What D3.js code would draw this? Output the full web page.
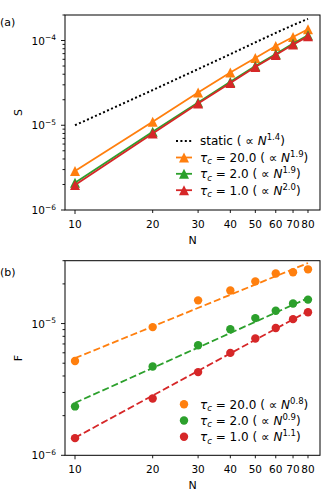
<!DOCTYPE html>
<html>
<head>
<meta charset="utf-8">
<script src="https://cdn.jsdelivr.net/npm/d3@7"></script>
<style>
  body { margin: 0; background: #fff; }
  svg { display: block; font-family: 'DejaVu Sans', sans-serif; }
</style>
</head>
<body>
<svg id="chart" width="336" height="503"></svg>
<script>
// ----
// data
// ----

var sizes = [10, 20, 30, 40, 50, 60, 70, 80];
var xTickValues = [10, 20, 30, 40, 50, 60, 70, 80];

// panel (a): S against N
var sStatic = [1.0e-5, 2.6e-5, 4.6e-5, 6.9e-5, 9.5e-5, 1.23e-4, 1.52e-4, 1.8e-4];
var sTau20 = [2.88e-6, 1.10e-5, 2.43e-5, 4.19e-5, 6.22e-5, 8.61e-5, 1.10e-4, 1.36e-4];
var sTau2 = [2.1e-6, 8.4e-6, 1.85e-5, 3.25e-5, 5.0e-5, 6.95e-5, 9.2e-5, 1.15e-4];
var sTau1 = [1.97e-6, 8.0e-6, 1.81e-5, 3.16e-5, 4.87e-5, 6.75e-5, 8.95e-5, 1.12e-4];

// panel (b): F against N
var fTau20 = [5.2e-6, 9.4e-6, 1.50e-5, 1.78e-5, 2.09e-5, 2.40e-5, 2.45e-5, 2.58e-5];
var fTau2 = [2.35e-6, 4.72e-6, 6.85e-6, 9.05e-6, 1.10e-5, 1.25e-5, 1.42e-5, 1.52e-5];
var fTau1 = [1.35e-6, 2.70e-6, 4.28e-6, 5.99e-6, 7.7e-6, 9.26e-6, 1.08e-5, 1.22e-5];

// fitted power laws, values at the two ends N = 10 and N = 80
var fitEnds = [10, 80];
var fitTau20 = [5.46e-6, 2.88e-5];
var fitTau2 = [2.5e-6, 1.56e-5];
var fitTau1 = [1.36e-6, 1.24e-5];

// legend text pieces
var tauLabels = ['20.0', '2.0', '1.0'];
var sExponents = ['1.9', '1.9', '2.0'];
var fExponents = ['0.8', '0.9', '1.1'];
var staticExponent = '1.4';

var colors = ['#ff7f0e', '#2ca02c', '#d62728'];

// ------
// layout
// ------

var svg = d3.select('#chart');
var left = 65, right = 320;

var x = d3.scaleLog().domain([9.145, 89.05]).range([left, right]);

var panelA = { top: 15, bottom: 210, yDomain: [1e-6, 2e-4], label: 'S', tag: '(a)', tagY: 26 };
var panelB = { top: 260.7, bottom: 455.3, yDomain: [1e-6, 3e-5], label: 'F', tag: '(b)', tagY: 276 };

// adds a "10^e" label made of two tspans
var powerLabel = function (text, exp, sup) {
  text.append('tspan').text('10');
  text.append('tspan').attr('dy', -4.5).attr('font-size', sup).text('\u2212' + exp);
};

// axes, ticks and frame of one panel
var drawPanel = function (p) {
  var y = d3.scaleLog().domain(p.yDomain).range([p.bottom, p.top]);
  var g = svg.append('g').attr('class', 'panel');

  // x ticks
  var xt = g.append('g').attr('class', 'x-ticks');
  xt.selectAll('line').data(xTickValues).enter().append('line')
    .attr('x1', function (d) { return x(d); })
    .attr('x2', function (d) { return x(d); })
    .attr('y1', p.bottom)
    .attr('y2', function (d) { return p.bottom + (d === 10 ? 4 : 3); })
    .attr('stroke', '#000').attr('stroke-width', 0.9);
  xt.selectAll('text').data(xTickValues).enter().append('text')
    .attr('x', function (d) { return x(d); })
    .attr('y', p.bottom + 18)
    .attr('text-anchor', 'middle')
    .attr('font-size', 10.5)
    .text(d3.format('d'));

  // y ticks: decades with labels, the rest short
  var yt = g.append('g').attr('class', 'y-ticks');
  var lo = Math.round(Math.log10(p.yDomain[0])), hi = Math.ceil(Math.log10(p.yDomain[1]));
  var all = [];
  for (var e = lo; e < hi; e++) {
    for (var m = 1; m < 10; m++) {
      var v = m * Math.pow(10, e);
      if (v >= p.yDomain[0] * 0.999 && v <= p.yDomain[1] * 1.001) all.push({ v: v, major: m === 1, e: e });
    }
  }
  yt.selectAll('line').data(all).enter().append('line')
    .attr('x1', left)
    .attr('x2', function (d) { return left - (d.major ? 4 : 2.5); })
    .attr('y1', function (d) { return y(d.v); })
    .attr('y2', function (d) { return y(d.v); })
    .attr('stroke', '#000').attr('stroke-width', 0.9);
  yt.selectAll('text').data(all.filter(function (d) { return d.major; })).enter().append('text')
    .attr('x', 56)
    .attr('y', function (d) { return y(d.v) + 4; })
    .attr('text-anchor', 'end')
    .attr('font-size', 10.5)
    .each(function (d) { powerLabel(d3.select(this), -d.e, 7.5); });

  // frame
  g.append('rect')
    .attr('x', left).attr('y', p.top)
    .attr('width', right - left).attr('height', p.bottom - p.top)
    .attr('fill', 'none').attr('stroke', '#000').attr('stroke-width', 1);

  // axis labels
  g.append('text')
    .attr('x', (left + right) / 2).attr('y', p.bottom + 34)
    .attr('text-anchor', 'middle').attr('font-size', 11)
    .text('N');
  g.append('text')
    .attr('transform', 'translate(22,' + ((p.top + p.bottom) / 2) + ') rotate(-90)')
    .attr('text-anchor', 'middle').attr('font-size', 11)
    .text(p.label);
  g.append('text')
    .attr('x', 0).attr('y', p.tagY)
    .attr('font-size', 11)
    .text(p.tag);

  return y;
};

// triangle marker path centred on 0,0
var triangle = function (s) {
  return 'M0,' + (-s) + 'L' + (-s) + ',' + s + 'L' + s + ',' + s + 'Z';
};

// legend label "tau_c = v ( prop N^k )"
var tauText = function (text, tau, exp) {
  text.append('tspan').attr('font-style', 'italic').text('\u03c4');
  text.append('tspan').attr('font-style', 'italic').attr('font-size', 8.5).attr('dy', 2.5).text('c');
  text.append('tspan').attr('dy', -2.5).text(' = ' + tau + ' ( \u221d ');
  text.append('tspan').attr('font-style', 'italic').text('N');
  text.append('tspan').attr('font-size', 8.5).attr('dy', -5).text(exp);
  text.append('tspan').attr('dy', 5).text(')');
};

// ---------
// panel (a)
// ---------

var yA = drawPanel(panelA);
var lineA = d3.line()
  .x(function (d) { return x(d[0]); })
  .y(function (d) { return yA(d[1]); });

svg.append('path')
  .attr('d', lineA(d3.zip(sizes, sStatic)))
  .attr('fill', 'none').attr('stroke', '#000')
  .attr('stroke-width', 2).attr('stroke-dasharray', '2,2.4');

[sTau20, sTau2, sTau1].forEach(function (series, i) {
  var pts = d3.zip(sizes, series);
  svg.append('path')
    .attr('d', lineA(pts))
    .attr('fill', 'none').attr('stroke', colors[i]).attr('stroke-width', 1.8);
  svg.append('g').selectAll('path').data(pts).enter().append('path')
    .attr('d', triangle(5))
    .attr('transform', function (d) { return 'translate(' + x(d[0]) + ',' + yA(d[1]) + ')'; })
    .attr('fill', colors[i]);
});

// legend (a)
var legA = svg.append('g').attr('class', 'legend').attr('font-size', 12);
var rowA = [141, 157.5, 173.8, 190.2];
legA.append('line')
  .attr('x1', 176).attr('x2', 192).attr('y1', rowA[0]).attr('y2', rowA[0])
  .attr('stroke', '#000').attr('stroke-width', 2).attr('stroke-dasharray', '2,2.4');
var tStatic = legA.append('text').attr('x', 200).attr('y', rowA[0] + 4.3);
tStatic.append('tspan').text('static ( \u221d ');
tStatic.append('tspan').attr('font-style', 'italic').text('N');
tStatic.append('tspan').attr('font-size', 8.5).attr('dy', -5).text(staticExponent);
tStatic.append('tspan').attr('dy', 5).text(')');
tauLabels.forEach(function (tau, i) {
  var yy = rowA[i + 1];
  legA.append('line')
    .attr('x1', 176).attr('x2', 192).attr('y1', yy).attr('y2', yy)
    .attr('stroke', colors[i]).attr('stroke-width', 1.8);
  legA.append('path').attr('d', triangle(5))
    .attr('transform', 'translate(184,' + yy + ')').attr('fill', colors[i]);
  tauText(legA.append('text').attr('x', 200).attr('y', yy + 4.3), tau, sExponents[i]);
});

// ---------
// panel (b)
// ---------

var yB = drawPanel(panelB);
var lineB = d3.line()
  .x(function (d) { return x(d[0]); })
  .y(function (d) { return yB(d[1]); });

[[fTau20, fitTau20], [fTau2, fitTau2], [fTau1, fitTau1]].forEach(function (pair, i) {
  svg.append('g').selectAll('circle').data(d3.zip(sizes, pair[0])).enter().append('circle')
    .attr('cx', function (d) { return x(d[0]); })
    .attr('cy', function (d) { return yB(d[1]); })
    .attr('r', 4.2)
    .attr('fill', colors[i]);
  svg.append('path')
    .attr('d', lineB(d3.zip(fitEnds, pair[1])))
    .attr('fill', 'none').attr('stroke', colors[i])
    .attr('stroke-width', 1.8).attr('stroke-dasharray', '7,3');
});

// legend (b)
var legB = svg.append('g').attr('class', 'legend').attr('font-size', 12);
var rowB = [404.3, 420.5, 436.7];
tauLabels.forEach(function (tau, i) {
  var yy = rowB[i];
  legB.append('circle').attr('cx', 184).attr('cy', yy).attr('r', 4.2).attr('fill', colors[i]);
  tauText(legB.append('text').attr('x', 200).attr('y', yy + 4.3), tau, fExponents[i]);
});
</script>
</body>
</html>
